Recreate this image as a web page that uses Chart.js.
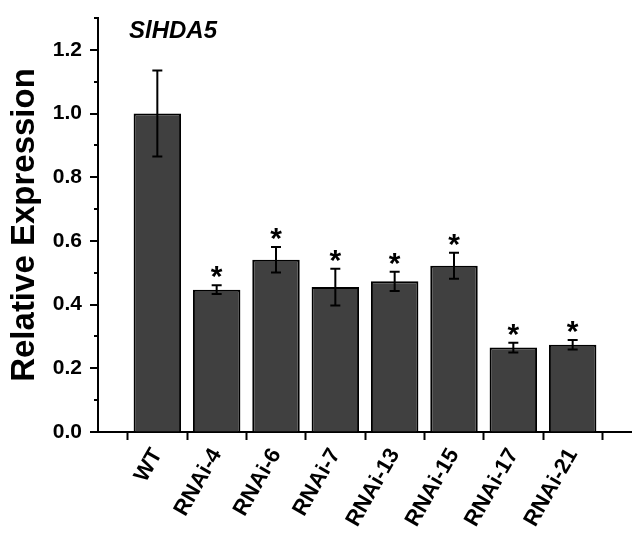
<!DOCTYPE html>
<html>
<head>
<meta charset="utf-8">
<script src="https://cdn.jsdelivr.net/npm/chart.js@4"></script>
<style>
  body { margin: 0; background: #fff; }
  canvas { display: block; }
</style>
</head>
<body>
<canvas id="expressionChart" width="632" height="535"></canvas>
<script>
// values
const categories = ['WT', 'RNAi-4', 'RNAi-6', 'RNAi-7', 'RNAi-13', 'RNAi-15', 'RNAi-17', 'RNAi-21'];
const expression = [1.0, 0.447, 0.541, 0.455, 0.473, 0.522, 0.265, 0.274];
const errors = [0.135, 0.014, 0.040, 0.058, 0.030, 0.041, 0.015, 0.015];
const significant = [false, true, true, true, true, true, true, true];
const geneName = 'SlHDA5';

const FONT = '"Liberation Sans", Arial, sans-serif';

// blank slots either side so the axis runs from -1 to 8 like the original
const labels = [''].concat(categories, ['']);
const values = [null].concat(expression, [null]);

// error bars, asterisks, minor ticks and the gene name
const decorations = {
    id: 'decorations',
    afterDatasetsDraw(chart) {
        const ctx = chart.ctx;
        const x = chart.scales.x;
        const y = chart.scales.y;
        ctx.save();
        ctx.strokeStyle = '#000';
        ctx.lineWidth = 2;
        ctx.fillStyle = '#000';
        ctx.font = 'bold 30px ' + FONT;
        ctx.textAlign = 'center';
        const m = ctx.measureText('*');
        for (let i = 0; i < categories.length; i++) {
            const cx = x.getPixelForValue(i + 1);
            const top = y.getPixelForValue(expression[i] + errors[i]);
            const bottom = y.getPixelForValue(expression[i] - errors[i]);
            ctx.beginPath();
            ctx.moveTo(cx, top);
            ctx.lineTo(cx, bottom);
            ctx.moveTo(cx - 5, top);
            ctx.lineTo(cx + 5, top);
            ctx.moveTo(cx - 5, bottom);
            ctx.lineTo(cx + 5, bottom);
            ctx.stroke();
            if (significant[i]) {
                const mid = top - 13;
                const base = mid + (m.actualBoundingBoxAscent - m.actualBoundingBoxDescent) / 2;
                ctx.fillText('*', cx, base);
            }
        }
        ctx.restore();
    },
    afterDraw(chart) {
        const ctx = chart.ctx;
        const y = chart.scales.y;
        const area = chart.chartArea;
        ctx.save();
        ctx.strokeStyle = '#000';
        ctx.lineWidth = 2;
        for (let k = 0; k <= 13; k++) {
            const py = Math.round(y.getPixelForValue(k / 10));
            const len = k % 2 === 0 ? 8 : 4;
            ctx.beginPath();
            ctx.moveTo(area.left, py);
            ctx.lineTo(area.left - len, py);
            ctx.stroke();
        }
        ctx.fillStyle = '#000';
        ctx.font = 'italic bold 24px ' + FONT;
        ctx.textAlign = 'left';
        ctx.textBaseline = 'alphabetic';
        ctx.fillText(geneName, area.left + 31, area.top + 20);
        ctx.restore();
    }
};

const ctx = document.getElementById('expressionChart').getContext('2d');
const chart = new Chart(ctx, {
    type: 'bar',
    data: {
        labels: labels,
        datasets: [{
            data: values,
            backgroundColor: '#404040',
            borderColor: '#000',
            borderWidth: 2,
            barPercentage: 0.8,
            categoryPercentage: 1.0
        }]
    },
    options: {
        responsive: false,
        animation: false,
        layout: { padding: { top: 18, left: 0, right: 0, bottom: 0 } },
        plugins: {
            legend: { display: false },
            tooltip: { enabled: false }
        },
        scales: {
            x: {
                offset: false,
                afterFit(scale) {
                    scale.height = 103;
                    scale.paddingLeft = 0;
                    scale.paddingRight = 0;
                },
                grid: {
                    drawOnChartArea: false,
                    drawTicks: true,
                    tickLength: 8,
                    tickColor: '#000',
                    tickWidth: 2
                },
                border: { display: true, color: '#000', width: 2 },
                ticks: {
                    autoSkip: false,
                    maxRotation: 60,
                    minRotation: 60,
                    padding: 4,
                    color: '#000',
                    font: { family: FONT, size: 22, weight: 'bold' }
                }
            },
            y: {
                min: 0,
                max: 1.3,
                afterFit(scale) {
                    scale.width = 98;
                    scale.paddingTop = 0;
                    scale.paddingBottom = 0;
                },
                grid: { drawOnChartArea: false, drawTicks: false },
                border: { display: true, color: '#000', width: 2 },
                ticks: {
                    stepSize: 0.1,
                    padding: 16,
                    color: '#000',
                    font: { family: FONT, size: 21, weight: 'bold' },
                    callback(value) {
                        const tenths = Math.round(value * 10);
                        return tenths % 2 === 0 ? value.toFixed(1) : '';
                    }
                },
                title: {
                    display: true,
                    text: 'Relative Expression',
                    color: '#000',
                    padding: { top: 5, bottom: 0 },
                    font: { family: FONT, size: 33, weight: 'bold' }
                }
            }
        }
    },
    plugins: [decorations]
});
</script>
</body>
</html>
